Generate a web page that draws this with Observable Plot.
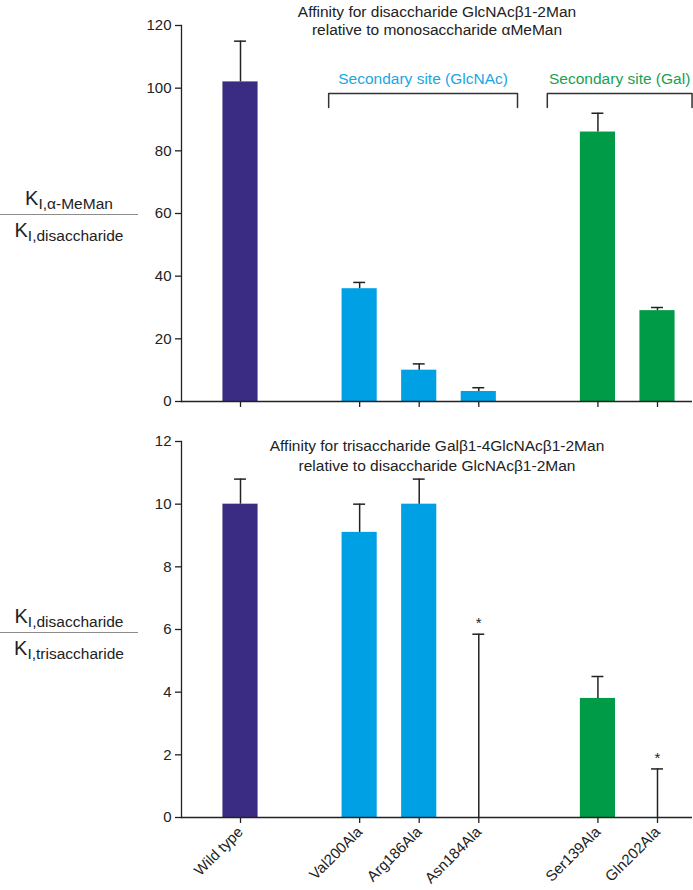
<!DOCTYPE html>
<html>
<head>
<meta charset="utf-8">
<script src="https://cdn.jsdelivr.net/npm/d3@7"></script>
<script src="https://cdn.jsdelivr.net/npm/@observablehq/plot@0.6"></script>
<style>
  html, body { margin: 0; padding: 0; background: #fff; }
  #chart { position: relative; width: 693px; height: 890px; font-family: "Liberation Sans", Arial, sans-serif; color: #222; }
  #top, #bottom { position: absolute; left: 0; }
  #top { top: 0; }
  #bottom { top: 420px; }
  .frac { position: absolute; left: 0; width: 138px; font-size: 20px; color: #222; }
  .frac .num { text-align: center; line-height: 24px; padding-bottom: 4px; border-bottom: 1.3px solid #8c8c8c; }
  .frac .den { text-align: center; line-height: 24px; padding-top: 3px; }
  .frac sub { font-size: 15.5px; vertical-align: -4px; line-height: 0; }
</style>
</head>
<body>
<div id="chart">
  <div id="top"></div>
  <div id="bottom"></div>
  <div class="frac" style="top:186px"><div class="num">K<sub>I,α-MeMan</sub></div><div class="den">K<sub>I,disaccharide</sub></div></div>
  <div class="frac" style="top:604px"><div class="num">K<sub>I,disaccharide</sub></div><div class="den">K<sub>I,trisaccharide</sub></div></div>
</div>
<script>
// ---- data ----
const categories = ["Wild type", "Val200Ala", "Arg186Ala", "Asn184Ala", "Ser139Ala", "Gln202Ala"];
const groups     = ["wt", "GlcNAc", "GlcNAc", "GlcNAc", "Gal", "Gal"];
const diValues   = [102, 36, 10, 3.2, 86, 29];
const diErrors   = [13, 2, 2, 1.2, 6, 1];
const triValues  = [10, 9.1, 10, 0, 3.8, 0];
const triErrors  = [0.8, 0.9, 0.8, 5.85, 0.7, 1.55];
const triFlags   = ["", "", "", "*", "", "*"];
const groupLabels = {GlcNAc: "Secondary site (GlcNAc)", Gal: "Secondary site (Gal)"};
const topTitle = "Affinity for disaccharide GlcNAcβ1-2Man\nrelative to monosaccharide αMeMan";
const bottomTitle = "Affinity for trisaccharide Galβ1-4GlcNAcβ1-2Man\nrelative to disaccharide GlcNAcβ1-2Man";
const topTicks = [0, 20, 40, 60, 80, 100, 120];
const bottomTicks = [0, 2, 4, 6, 8, 10, 12];

// ---- styling ----
const colors = {wt: "#3a2c82", GlcNAc: "#00a1e4", Gal: "#009b47"};
const labelColors = {GlcNAc: "#1ba6e2", Gal: "#17a153"};
const font = "Liberation Sans, Arial, sans-serif";

// slot positions: one empty slot between groups
const positions = [];
{
  let p = 0;
  groups.forEach((g, i) => {
    if (i > 0) p += (g === groups[i - 1]) ? 1 : 2;
    positions.push(p);
  });
}
const rows = categories.map((c, i) => ({
  cat: c, group: groups[i], pos: positions[i],
  di: diValues[i], diErr: diErrors[i],
  tri: triValues[i], triErr: triErrors[i], flag: triFlags[i]
}));

const barHalf = 0.295;   // half bar width in slot units
const capHalf = 0.1;     // half error cap width
const xScale = {domain: [d3.min(positions), d3.max(positions)], range: [240, 657]};

// brackets over the secondary-site groups (annotation layout)
const bracketPad = {GlcNAc: [0.52, 0.65], Gal: [0.85, 0.58]};
const bracketY = [93.8, 98.3];
const brackets = [];
const bracketText = [];
["GlcNAc", "Gal"].forEach(g => {
  const ps = rows.filter(r => r.group === g).map(r => r.pos);
  const l = d3.min(ps) - bracketPad[g][0], r = d3.max(ps) + bracketPad[g][1];
  brackets.push({g, x: l, y: bracketY[0]}, {g, x: l, y: bracketY[1]}, {g, x: r, y: bracketY[1]}, {g, x: r, y: bracketY[0]});
  bracketText.push({g, x: (l + r) / 2, y: bracketY[1], text: groupLabels[g]});
});

const topPlot = Plot.plot({
  width: 693, height: 420,
  marginLeft: 181, marginRight: 1, marginTop: 25, marginBottom: 19,
  style: {fontFamily: font, color: "#222", background: "transparent"},
  x: xScale,
  y: {domain: [0, 120]},
  marks: [
    Plot.rectY(rows, {x1: d => d.pos - barHalf, x2: d => d.pos + barHalf, y: "di", fill: d => colors[d.group]}),
    Plot.ruleX(rows, {x: "pos", y1: "di", y2: d => d.di + d.diErr, stroke: "#222", strokeWidth: 1.5}),
    Plot.ruleY(rows, {y: d => d.di + d.diErr, x1: d => d.pos - capHalf, x2: d => d.pos + capHalf, stroke: "#222", strokeWidth: 1.5}),
    Plot.ruleY([0], {stroke: "#222", strokeWidth: 1.3}),
    Plot.frame({anchor: "left", stroke: "#222", strokeWidth: 1.3}),
    Plot.axisY({ticks: topTicks, tickSize: 6, tickPadding: 4, fontSize: 15, label: null, stroke: "#222", strokeWidth: 1.3}),
    Plot.axisX({ticks: positions, tickSize: 6, tickFormat: () => "", label: null, stroke: "#222", strokeWidth: 1.3}),
    Plot.line(brackets, {x: "x", y: "y", z: "g", stroke: "#333", strokeWidth: 1.5}),
    Plot.text(bracketText, {x: "x", y: "y", text: "text", dy: -9, lineAnchor: "bottom", fill: d => labelColors[d.g], fontSize: 15.5}),
    Plot.text([topTitle], {text: d => d, frameAnchor: "top", dx: 0, dy: -22, lineAnchor: "top", lineHeight: 1.18, fontSize: 15.5, fill: "#222"})
  ]
});
document.getElementById("top").appendChild(topPlot);

const bottomPlot = Plot.plot({
  width: 693, height: 470,
  marginLeft: 181, marginRight: 1, marginTop: 21, marginBottom: 73,
  style: {fontFamily: font, color: "#222", background: "transparent"},
  x: xScale,
  y: {domain: [0, 12]},
  marks: [
    Plot.rectY(rows, {x1: d => d.pos - barHalf, x2: d => d.pos + barHalf, y: "tri", fill: d => colors[d.group]}),
    Plot.ruleX(rows, {x: "pos", y1: "tri", y2: d => d.tri + d.triErr, stroke: "#222", strokeWidth: 1.5}),
    Plot.ruleY(rows, {y: d => d.tri + d.triErr, x1: d => d.pos - capHalf, x2: d => d.pos + capHalf, stroke: "#222", strokeWidth: 1.5}),
    Plot.text(rows, {x: "pos", y: d => d.tri + d.triErr, text: "flag", dy: -6, lineAnchor: "bottom", fontSize: 15, fill: "#222"}),
    Plot.ruleY([0], {stroke: "#222", strokeWidth: 1.3}),
    Plot.frame({anchor: "left", stroke: "#222", strokeWidth: 1.3}),
    Plot.axisY({ticks: bottomTicks, tickSize: 6, tickPadding: 4, fontSize: 15, label: null, stroke: "#222", strokeWidth: 1.3}),
    Plot.axisX({ticks: positions, tickSize: 6, tickPadding: 6, tickFormat: (d) => categories[positions.indexOf(d)], tickRotate: -45, fontSize: 15, label: null, stroke: "#222", strokeWidth: 1.3}),
    Plot.text([bottomTitle], {text: d => d, frameAnchor: "top", dx: 0, dy: -4, lineAnchor: "top", lineHeight: 1.25, fontSize: 15.5, fill: "#222"})
  ]
});
document.getElementById("bottom").appendChild(bottomPlot);
</script>
</body>
</html>
